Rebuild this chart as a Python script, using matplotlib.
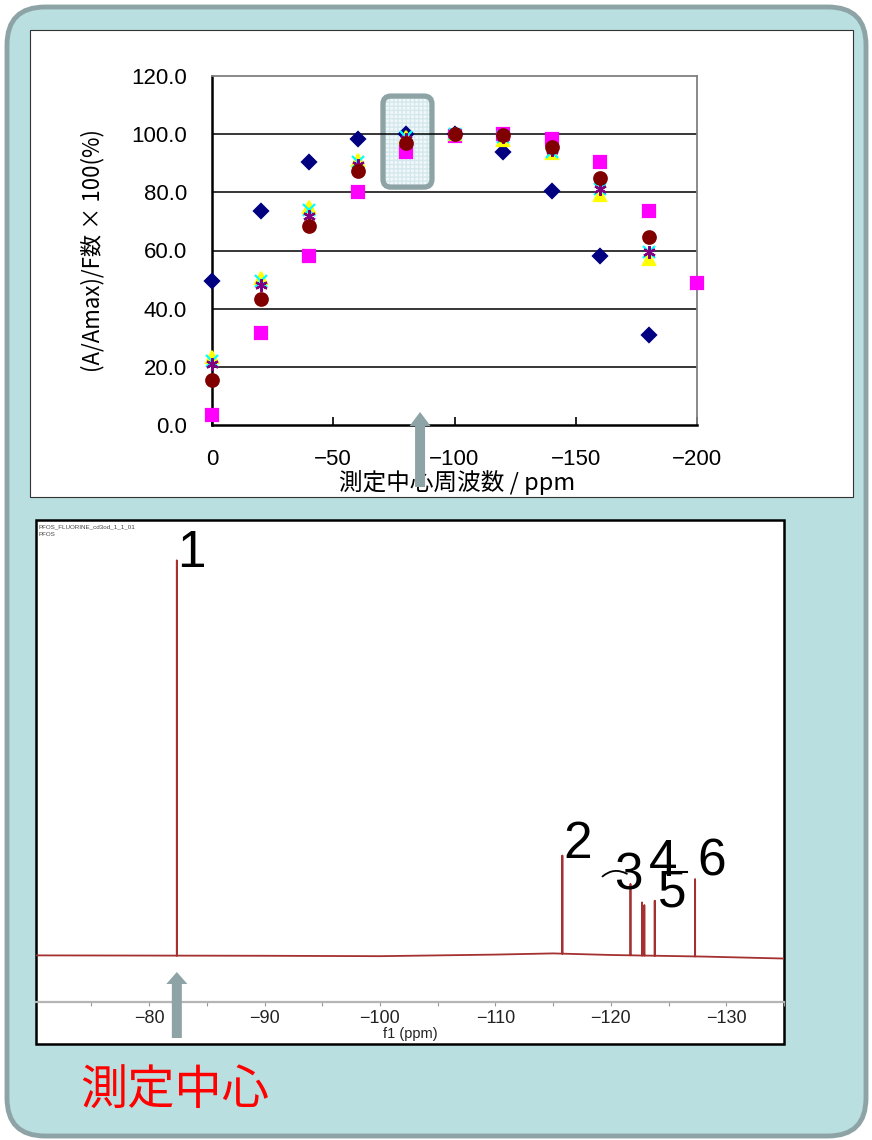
import numpy as np
import matplotlib
matplotlib.use("Agg")
import matplotlib.pyplot as plt
from matplotlib.patches import FancyBboxPatch, Rectangle, FancyArrow
from matplotlib.transforms import IdentityTransform

# dependence of the integral ratio on the centre frequency
freq = [0, -20, -40, -60, -80, -100, -120, -140, -160, -180, -200]
s_diamond = [49.5, 73.7, 90.3, 98.2, 100.0, 100.0, 93.8, 80.5, 58.1, 30.9, np.nan]
s_square = [3.4, 31.7, 58.2, 80.2, 94.0, 99.5, 100.0, 98.2, 90.6, 73.7, 48.9]
s_triangle = [23.5, 50.5, 75.0, 91.0, 99.0, 100.0, 98.0, 93.4, 79.0, 57.0, np.nan]
s_cross = [22.0, 49.5, 74.0, 90.5, 99.0, 100.0, 99.0, 94.0, 81.0, 59.6, np.nan]
s_star = [21.0, 48.0, 72.0, 89.5, 98.5, 100.0, 99.0, 94.5, 81.2, 59.4, np.nan]
s_circle = [15.5, 43.2, 68.4, 87.5, 97.1, 100.0, 99.7, 95.7, 84.8, 64.5, np.nan]

# 19F spectrum of PFOS
peak_ppm = [-82.4, -115.8, -121.7, -122.7, -122.9, -123.8, -127.3]
peak_height = [100.0, 24.8, 18.0, 13.4, 12.7, 13.9, 19.5]
base_ppm = [-70.2, -90.0, -100.0, -110.0, -115.0, -120.0, -128.0, -135.0]
base_level = [0.4, 0.3, 0.2, 0.6, 0.9, 0.5, 0.1, -0.4]
peak_labels = ["1", "2", "3", "4", "5", "6"]
label_ppm = [-83.7, -117.1, -121.5, -124.5, -125.3, -128.7]
label_int = [102.0, 28.4, 20.5, 24.0, 16.2, 24.0]

W, H = 872, 1140
JP = ["Noto Sans CJK JP", "DejaVu Sans"]
NARROW = ["Liberation Sans Narrow", "Liberation Sans"]
plt.rcParams["font.family"] = ["Liberation Sans", "Noto Sans CJK JP", "DejaVu Sans"]

fig = plt.figure(figsize=(W / 100, H / 100), dpi=100)
fig.patch.set_facecolor("white")
pix = IdentityTransform()

# background card and the two white panels
fig.add_artist(FancyBboxPatch((7, H - 1136), 859, 1129,
                              boxstyle="round,pad=0,rounding_size=38",
                              fc="#b9dfe1", ec="#8ea3a5", lw=3.5,
                              transform=pix, zorder=-3))
fig.add_artist(Rectangle((30, H - 497), 823, 467, fc="white", ec="#333333",
                         lw=0.8, transform=pix, zorder=-2))
fig.add_artist(Rectangle((36, H - 1044), 748, 524, fc="white", ec="black",
                         lw=1.8, transform=pix, zorder=-2))

# ---- top: scatter chart ----
ax1 = fig.add_axes([212 / W, (H - 425) / H, 485 / W, 349 / H])
ax1.set_xlim(0, -200)
ax1.set_ylim(0, 120)
ax1.set_yticks(np.arange(0, 121, 20))
ax1.set_yticklabels(["%.1f" % v for v in np.arange(0, 121, 20)])
ax1.set_xticks([0, -50, -100, -150, -200])
ax1.tick_params(axis="x", direction="in", length=6, width=1.2, pad=17,
                labelsize=16)
ax1.tick_params(axis="y", length=0, pad=18, labelsize=16)
for y in range(20, 101, 20):
    ax1.axhline(y, color="black", lw=1.1, zorder=1)
for side in ["left", "bottom"]:
    ax1.spines[side].set_color("black")
    ax1.spines[side].set_linewidth(1.8)
for side in ["top", "right"]:
    ax1.spines[side].set_color("#808080")
    ax1.spines[side].set_linewidth(1.3)

ax1.set_xlabel("測定中心周波数 / ppm", family=JP, fontsize=17)
ax1.xaxis.set_label_coords(0.505, -0.13)
ax1.set_ylabel("(A/Amax)/F数 × 100(%)", family=JP, fontsize=16)
ax1.yaxis.set_label_coords(-0.222, 0.5)

series = [
    (s_diamond, "D", "#000080", 7),
    (s_square, "s", "#ff00ff", 8.5),
    (s_triangle, "^", "#ffff00", 8.5),
    (s_cross, "x", "#00ffff", 8),
    (s_star, (6, 2, 0), "#800080", 9),
    (s_circle, "o", "#800000", 9),
]
for vals, mk, col, ms in series:
    ax1.plot(freq, vals, linestyle="none", marker=mk, color=col, ms=ms,
             mew=1.6, clip_on=False, zorder=4)

# highlighted column at -80 ppm
fig.canvas.draw()
bx0, by0 = ax1.transData.transform((-70.5, 81.8))
bx1, by1 = ax1.transData.transform((-90.7, 113.1))
box_kw = dict(boxstyle="round,pad=0,rounding_size=8", transform=pix)
fig.add_artist(FancyBboxPatch((bx0, by0), bx1 - bx0, by1 - by0, fc="#eef7f9",
                              ec="#cfe5ea", lw=0, hatch="++++", alpha=0.8,
                              zorder=0.5, **box_kw))
fig.add_artist(FancyBboxPatch((bx0, by0), bx1 - bx0, by1 - by0, fc="none",
                              ec="#8ea3a5", lw=3.8, zorder=0.6, **box_kw))
ax1.set_zorder(1)
ax1.patch.set_alpha(0)

# ---- bottom: spectrum ----
ax2 = fig.add_axes([36 / W, (H - 1002) / H, 748 / W, 482 / H])
ax2.patch.set_alpha(0)
ax2.set_xlim(-70.2, -135.0)
ax2.set_ylim(-11.4, 110.6)
ax2.set_xticks(np.arange(-80, -131, -10))
ax2.set_xticks(np.arange(-75, -136, -5), minor=True)
ax2.set_yticks([])
for side in ["top", "left", "right"]:
    ax2.spines[side].set_visible(False)
ax2.spines["bottom"].set_color("#b5b5b5")
ax2.spines["bottom"].set_linewidth(1.6)
ax2.tick_params(axis="x", which="both", length=3, width=0.8, color="#999999",
                labelsize=13, labelcolor="#222222", pad=3)
for lab in ax2.get_xticklabels():
    lab.set_family(NARROW)
ax2.set_xlabel("f1 (ppm)", fontsize=10.5, color="#222222", family=NARROW)
ax2.xaxis.set_label_coords(0.5, -0.052)

# baseline with the peaks as narrow spikes
xs = list(base_ppm)
ys = list(base_level)
peak_base = np.interp(peak_ppm, base_ppm[::-1], base_level[::-1])
for p, h, b in zip(peak_ppm, peak_height, peak_base):
    xs += [p, p, p]
    ys += [b, b + h, b]
order = np.argsort(-np.array(xs), kind="stable")
xs = np.array(xs)[order]
ys = np.array(ys)[order]
ax2.plot(xs, ys, color="#a43030", lw=1.3, zorder=3)

for t, px_, iy in zip(peak_labels, label_ppm, label_int):
    ax2.text(px_, iy, t, fontsize=37, ha="center", va="center", color="black",
             zorder=4)
ax2.annotate("", xy=(-121.6, 20.7), xytext=(-119.1, 19.9),
             arrowprops=dict(arrowstyle="-", lw=1.3, color="black",
                             connectionstyle="arc3,rad=-0.4"))
ax2.plot([-125.4, -126.6], [21.5, 21.5], color="black", lw=1.5)

fig.text(38 / W, 1 - 527 / H, "PFOS_FLUORINE_cd3od_1_1_01", fontsize=4.5,
         color="#444444", va="center")
fig.text(38 / W, 1 - 535 / H, "PFOS", fontsize=4.5, color="#444444",
         va="center")

# arrows marking the measurement centre
ax_top_x = ax1.transData.transform((-85.8, 0))[0]
fig.add_artist(FancyArrow(ax_top_x, H - 487, 0, 75, width=10, head_width=21,
                          head_length=14, length_includes_head=True,
                          fc="#8ea3a5", ec="none", transform=pix, zorder=5))
ax_bot_x = ax2.transData.transform((peak_ppm[0], 0))[0]
fig.add_artist(FancyArrow(ax_bot_x, H - 1038, 0, 66, width=10, head_width=21,
                          head_length=12, length_includes_head=True,
                          fc="#8ea3a5", ec="none", transform=pix, zorder=5))

fig.text(80 / W, 1 - 1092 / H, "測定中心", family=JP, fontsize=34,
         color="#ff0000", va="center")

fig.savefig("out.png", dpi=100)
